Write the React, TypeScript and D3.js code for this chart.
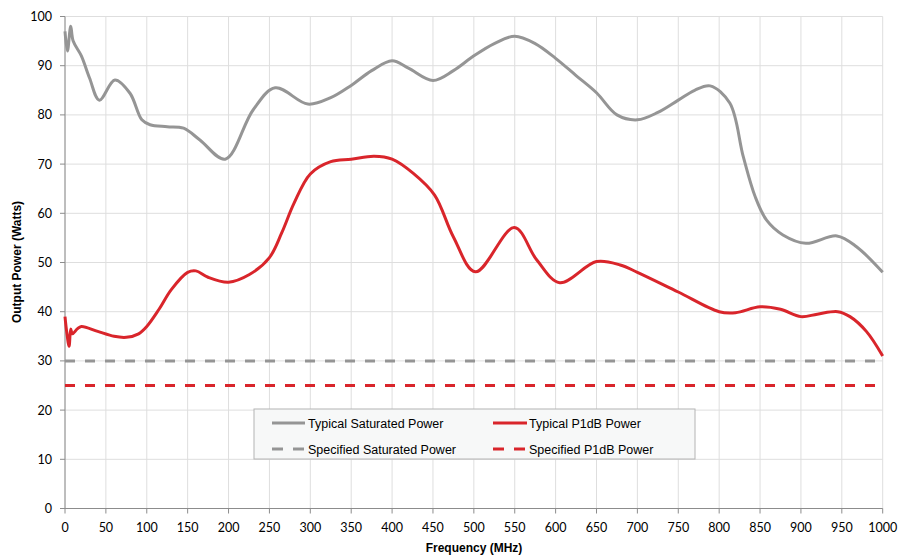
import React from "react";
import * as d3 from "d3";

const satFreq = [0, 3, 7, 10, 20, 30, 42, 61, 79.5, 94, 104, 125, 145, 165, 196, 230, 257, 297, 325, 350, 375, 400, 420, 450, 475, 500, 525, 550, 575, 600, 625, 650, 675, 700, 725, 750, 770, 789, 813, 829.5, 844, 858, 878, 906, 944, 968, 1000];
const satPower = [97, 93, 98, 95, 92, 87.5, 83, 87.1, 84.4, 79, 78, 77.6, 77.3, 74.9, 71, 81, 85.5, 82.2, 83.5, 86, 89, 91, 89.5, 87, 89, 92, 94.5, 96, 94.5, 91.5, 88, 84.5, 80, 79, 80.5, 83, 85, 85.9, 82.4, 71.5, 63.4, 58.6, 55.6, 53.9, 55.4, 53.2, 48];

const p1Freq = [0, 2, 5, 7, 9, 15, 20, 40, 60, 75, 90, 100, 115, 130, 150, 160, 175, 200, 225, 250, 265, 280, 300, 325, 350, 378, 400, 426, 452, 475, 502, 549.5, 577, 605, 650, 679, 700, 750, 800, 820, 850, 875, 900, 920, 945, 960, 980, 1000];
const p1Power = [39, 36, 33, 36.5, 35.5, 36.5, 37, 36, 35, 34.8, 35.5, 37, 40.5, 44.5, 48, 48.3, 47, 46, 47.5, 51, 56, 62, 68, 70.5, 71, 71.6, 71, 68.1, 63.7, 55.2, 48.1, 57.1, 50.5, 45.9, 50.2, 49.5, 48, 44, 40, 39.8, 41, 40.5, 39, 39.5, 40, 39, 36, 31];

const specSat = 30;
const specP1 = 25;

const xTicks = d3.range(0, 1001, 50);
const yTicks = d3.range(0, 101, 10);

const GRAY = "#959595";
const RED = "#d9252b";

export default function App() {
  const W = 913, H = 557;
  const x = d3.scaleLinear().domain([0, 1000]).range([65, 882.7]);
  const y = d3.scaleLinear().domain([0, 100]).range([508.5, 16.5]);
  const line = d3.line<[number, number]>().x(d => x(d[0])).y(d => y(d[1])).curve(d3.curveCatmullRom.alpha(0.5));
  const satPts = satFreq.map((f, i) => [f, satPower[i]] as [number, number]);
  const p1Pts = p1Freq.map((f, i) => [f, p1Power[i]] as [number, number]);
  const tickFont = "Lato, 'Open Sans', sans-serif";
  const legFont = "'Liberation Sans', Arial, sans-serif";
  const lx = 254, ly = 409, lw = 441, lh = 50;
  return (
    <svg width={W} height={H} style={{ position: "absolute", left: 0, top: 0, background: "#fff" }}>
      {xTicks.map(t => (
        <line key={"gx" + t} x1={x(t)} x2={x(t)} y1={y(0)} y2={y(100)} stroke="#dedede" strokeWidth={1} />
      ))}
      {yTicks.map(t => (
        <line key={"gy" + t} x1={x(0)} x2={x(1000)} y1={y(t)} y2={y(t)} stroke="#dedede" strokeWidth={1} />
      ))}
      <line x1={x(0)} x2={x(0)} y1={y(0)} y2={y(100)} stroke="#8c8c8c" strokeWidth={1} />
      <line x1={x(0)} x2={x(1000)} y1={y(0)} y2={y(0)} stroke="#8c8c8c" strokeWidth={1} />
      {xTicks.map(t => (
        <g key={"tx" + t}>
          <line x1={x(t)} x2={x(t)} y1={y(0)} y2={y(0) + 5} stroke="#8c8c8c" />
          <text x={x(t)} y={532} textAnchor="middle" fontFamily={tickFont} fontSize={12.5} fill="#000">{t}</text>
        </g>
      ))}
      {yTicks.map(t => (
        <g key={"ty" + t}>
          <line x1={x(0) - 5} x2={x(0)} y1={y(t)} y2={y(t)} stroke="#8c8c8c" />
          <text x={52} y={y(t) + 4.5} textAnchor="end" fontFamily={tickFont} fontSize={12.5} fill="#000">{t}</text>
        </g>
      ))}
      <line x1={x(0)} x2={x(1000)} y1={y(specSat)} y2={y(specSat)} stroke={GRAY} strokeWidth={3} strokeDasharray="10 10" />
      <line x1={x(0)} x2={x(1000)} y1={y(specP1)} y2={y(specP1)} stroke={RED} strokeWidth={3} strokeDasharray="10 10" />
      <path d={line(satPts) || ""} fill="none" stroke={GRAY} strokeWidth={3} strokeLinejoin="round" />
      <path d={line(p1Pts) || ""} fill="none" stroke={RED} strokeWidth={3} strokeLinejoin="round" />
      <g>
        <rect x={lx} y={ly} width={lw} height={lh} fill="#f7f8f8" stroke="#b4b4b4" strokeWidth={1} />
        <line x1={272} x2={305} y1={423} y2={423} stroke={GRAY} strokeWidth={3} />
        <text x={308} y={427.5} fontFamily={legFont} fontSize={12.5} fill="#000">Typical Saturated Power</text>
        <line x1={493} x2={527} y1={423} y2={423} stroke={RED} strokeWidth={3} />
        <text x={529} y={427.5} fontFamily={legFont} fontSize={12.5} fill="#000">Typical P1dB Power</text>
        <line x1={272} x2={305} y1={449} y2={449} stroke={GRAY} strokeWidth={3} strokeDasharray="11 10" />
        <text x={308} y={453.5} fontFamily={legFont} fontSize={12.5} fill="#000">Specified Saturated Power</text>
        <line x1={493} x2={527} y1={449} y2={449} stroke={RED} strokeWidth={3} strokeDasharray="11 10" />
        <text x={529} y={453.5} fontFamily={legFont} fontSize={12.5} fill="#000">Specified P1dB Power</text>
      </g>
      <text x={474} y={552} textAnchor="middle" fontFamily={legFont} fontWeight="bold" fontSize={12} fill="#000">Frequency (MHz)</text>
      <text transform="translate(21,262) rotate(-90)" textAnchor="middle" fontFamily={legFont} fontWeight="bold" fontSize={12} fill="#000">Output Power (Watts)</text>
    </svg>
  );
}
